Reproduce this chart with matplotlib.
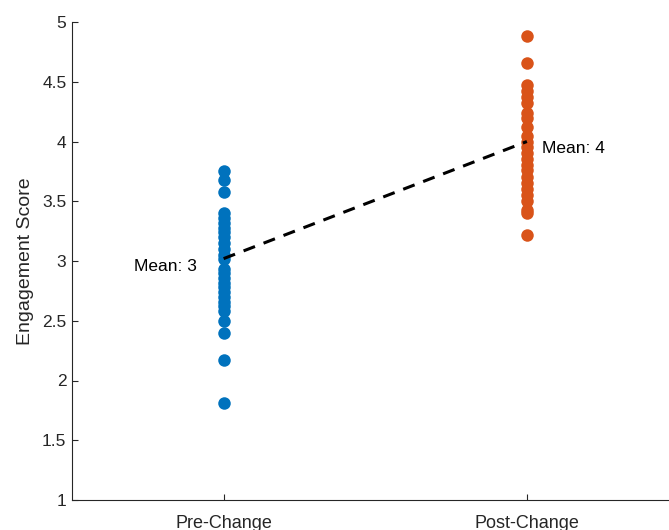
import matplotlib
matplotlib.use("Agg")
import matplotlib.pyplot as plt

categories = ["Pre-Change", "Post-Change"]
pre_scores = [3.75, 3.68, 3.58, 3.40, 3.36, 3.32, 3.28, 3.24, 3.20, 3.15, 3.10, 3.05, 3.02,
              2.93, 2.90, 2.86, 2.82, 2.78, 2.74, 2.70, 2.66, 2.62, 2.58, 2.50, 2.40, 2.17, 1.81]
post_scores = [4.88, 4.66, 4.47, 4.42, 4.37, 4.32, 4.24, 4.20, 4.12, 4.05, 4.00, 3.95, 3.90,
               3.85, 3.80, 3.76, 3.70, 3.65, 3.60, 3.55, 3.50, 3.43, 3.40, 3.22]
mean_values = [3.02, 4.0]
mean_labels = ["Mean: 3", "Mean: 4"]
y_ticks = [1, 1.5, 2, 2.5, 3, 3.5, 4, 4.5, 5]
y_tick_labels = ["1", "1.5", "2", "2.5", "3", "3.5", "4", "4.5", "5"]

plt.rcParams['font.family'] = ['Liberation Sans', 'DejaVu Sans']

fig = plt.figure(figsize=(6.69, 5.30), dpi=100)
ax = fig.add_axes([72/669, 30/530, (678.5-72)/669, (500-22)/530])

blue = "#0072BD"
orange = "#D95319"
ax.plot([1]*len(pre_scores), pre_scores, 'o', color=blue, ms=9, mec='none', zorder=2)
ax.plot([2]*len(post_scores), post_scores, 'o', color=orange, ms=9, mec='none', zorder=2)
ax.plot([1, 2], mean_values, color='black', lw=2.2, linestyle=(0, (4, 3)), zorder=3)

ax.annotate(mean_labels[0], xy=(1, mean_values[0]), xytext=(-19, -6), textcoords='offset points',
            ha='right', va='center', fontsize=12.5, color='black')
ax.annotate(mean_labels[1], xy=(2, mean_values[1]), xytext=(11, -5), textcoords='offset points',
            ha='left', va='center', fontsize=12.5, color='black')

ax.set_xlim(0.5, 2.5)
ax.set_ylim(1, 5)
ax.set_xticks([1, 2])
ax.set_xticklabels(categories)
ax.set_yticks(y_ticks)
ax.set_yticklabels(y_tick_labels)
ax.set_ylabel("Engagement Score", fontsize=14, color='#262626', labelpad=6)
ax.spines['top'].set_visible(False)
ax.spines['right'].set_visible(False)
for s in ['left', 'bottom']:
    ax.spines[s].set_color('#262626')
    ax.spines[s].set_linewidth(0.8)
ax.tick_params(direction='in', length=4, width=0.8, colors='#262626', labelsize=12.5)
ax.tick_params(axis='x', pad=10.5, labelsize=13)
ax.tick_params(axis='y', pad=4)

fig.savefig("out.png", dpi=100)
